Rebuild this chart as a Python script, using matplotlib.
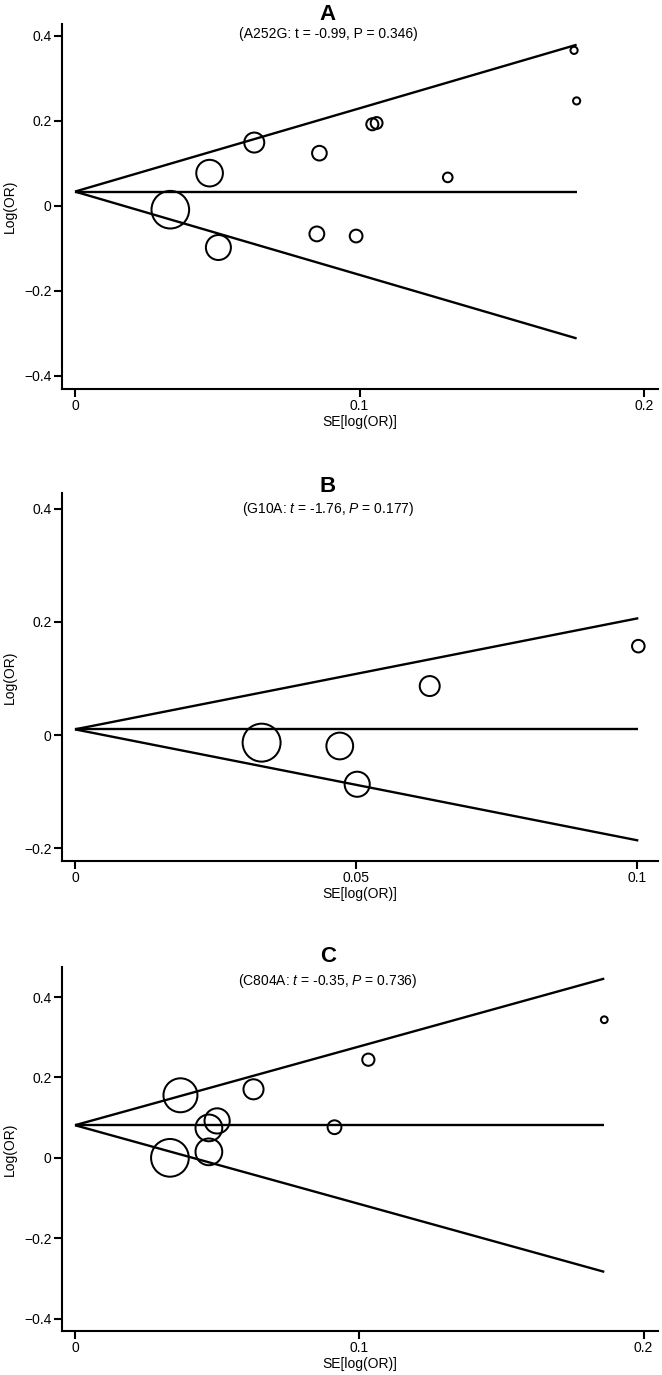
import matplotlib
matplotlib.use("Agg")
import matplotlib.pyplot as plt
import numpy as np

plt.rcParams['font.family'] = ['Liberation Sans', 'DejaVu Sans']
plt.rcParams['mathtext.fontset'] = 'custom'
plt.rcParams['mathtext.rm'] = 'Liberation Sans'
plt.rcParams['mathtext.it'] = 'Liberation Sans:italic'

# ---- Data ----
a_se = [0.1754, 0.1763, 0.1045, 0.1060, 0.0630, 0.0859, 0.1310, 0.0473, 0.0335, 0.0504, 0.0850, 0.0988]
a_logor = [0.366, 0.247, 0.192, 0.195, 0.149, 0.124, 0.067, 0.077, -0.009, -0.098, -0.066, -0.071]
a_pooled = 0.0336

b_se = [0.1002, 0.0631, 0.0332, 0.0471, 0.0502]
b_logor = [0.157, 0.0865, -0.0135, -0.0194, -0.087]
b_pooled = 0.010

c_se = [0.1862, 0.1032, 0.0628, 0.0371, 0.0500, 0.0471, 0.0913, 0.0471, 0.0334]
c_logor = [0.3437, 0.2443, 0.1706, 0.1557, 0.0919, 0.0745, 0.0762, 0.0149, 0.0]
c_pooled = 0.0812

panel_letters = ["A", "B", "C"]
subtitles = ["(A252G: t = -0.99, P = 0.346)",
             "(G10A: $t$ = -1.76, $P$ = 0.177)",
             "(C804A: $t$ = -0.35, $P$ = 0.736)"]
xticks = [[0, 0.1, 0.2], [0, 0.05, 0.1], [0, 0.1, 0.2]]
xticklabels = [["0", "0.1", "0.2"], ["0", "0.05", "0.1"], ["0", "0.1", "0.2"]]
yticks = [[-0.4, -0.2, 0, 0.2, 0.4], [-0.2, 0, 0.2, 0.4], [-0.4, -0.2, 0, 0.2, 0.4]]
yticklabels = [["\u22120.4", "\u22120.2", "0", "0.2", "0.4"],
               ["\u22120.2", "0", "0.2", "0.4"],
               ["\u22120.4", "\u22120.2", "0", "0.2", "0.4"]]

W, H = 662, 1375
fig = plt.figure(figsize=(W / 100, H / 100), dpi=100)

# axes boxes in pixels: (left, right, top, bottom)
boxes = [(62, 658, 24, 389), (62, 658, 493, 861), (62, 658, 967, 1331)]
xlims = [(-0.00457, 0.2049), (-0.0023, 0.1037), (-0.00457, 0.2051)]
ylims = [(-0.431, 0.428), (-0.2226, 0.4276), (-0.431, 0.475)]
letter_y = [15, 487, 957]
sub_y = [34, 509, 981]

datasets = [(a_se, a_logor, a_pooled), (b_se, b_logor, b_pooled), (c_se, c_logor, c_pooled)]

for i, (se, lo, pooled) in enumerate(datasets):
    l, r, t, b = boxes[i]
    ax = fig.add_axes([l / W, 1 - b / H, (r - l) / W, (b - t) / H])
    se = np.array(se)
    lo = np.array(lo)
    smax = se.max()
    # funnel lines
    ax.plot([0, smax], [pooled, pooled + 1.96 * smax], color='black', lw=1.7, solid_capstyle='butt')
    ax.plot([0, smax], [pooled, pooled - 1.96 * smax], color='black', lw=1.7, solid_capstyle='butt')
    ax.plot([0, smax], [pooled, pooled], color='black', lw=1.7, solid_capstyle='butt')
    sizes = (0.907 / se) ** 2
    ax.scatter(se, lo, s=sizes, facecolors='none', edgecolors='black', linewidths=1.45, zorder=3)
    ax.set_xlim(*xlims[i])
    ax.set_ylim(*ylims[i])
    ax.spines['top'].set_visible(False)
    ax.spines['right'].set_visible(False)
    for s in ['left', 'bottom']:
        ax.spines[s].set_linewidth(1.5)
    ax.set_xticks(xticks[i])
    ax.set_xticklabels(xticklabels[i])
    ax.set_yticks(yticks[i])
    ax.set_yticklabels(yticklabels[i])
    ax.tick_params(axis='both', direction='out', length=5.5, width=1.5, labelsize=10, pad=2)
    ax.set_xlabel("SE[log(OR)]", fontsize=10, labelpad=1)
    ax.set_ylabel("Log(OR)", fontsize=10, labelpad=5)
    fig.text(328 / W, 1 - letter_y[i] / H, panel_letters[i], fontsize=16, fontweight='bold',
             ha='center', va='center')
    fig.text(328 / W, 1 - sub_y[i] / H, subtitles[i], fontsize=10, ha='center', va='center')

fig.savefig("out.png", dpi=100)
